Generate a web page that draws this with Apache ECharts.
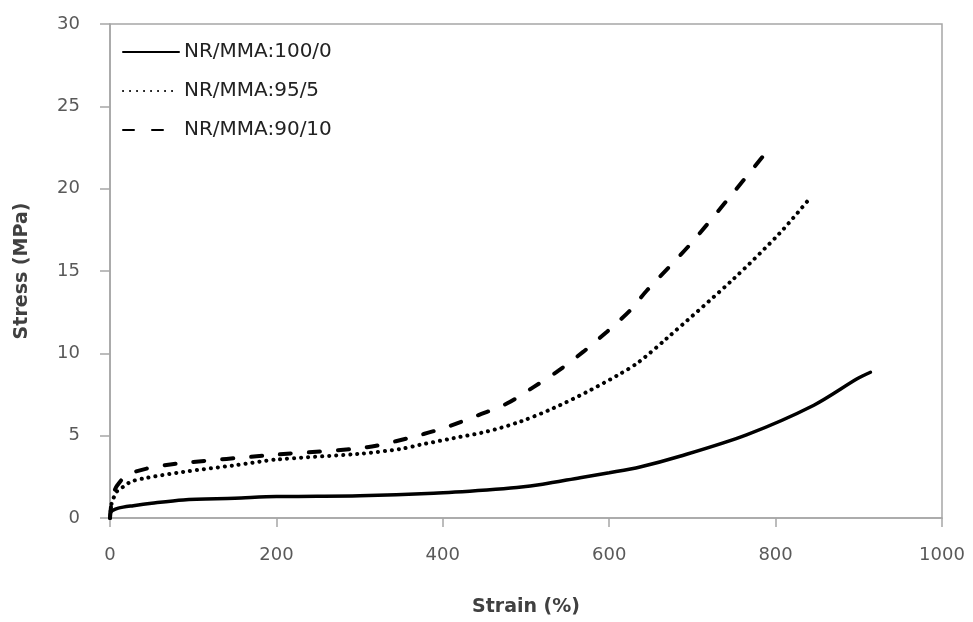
<!DOCTYPE html>
<html>
<head>
<meta charset="utf-8">
<script src="https://cdn.jsdelivr.net/npm/echarts@6/dist/echarts.min.js"></script>
<style>html,body{margin:0;padding:0;background:#fff}#c{width:973px;height:622px}</style>
</head>
<body>
<div id="c"></div>
<script>
const seriesNames = ['NR/MMA:100/0', 'NR/MMA:95/5', 'NR/MMA:90/10'];
const xTicks = [0, 200, 400, 600, 800, 1000];
const yTicks = [0, 5, 10, 15, 20, 25, 30];

const nr100 = [[0,0],[0.5,0.3],[3,0.45],[10,0.6],[28,0.75],[50,0.9],[88,1.1],[150,1.2],[200,1.3],[300,1.35],[389,1.5],[453,1.7],[489,1.85],[520,2.05],[565,2.45],[600,2.75],[637,3.1],[685,3.75],[765,5.05],[846,6.85],[898,8.45],[914,8.85]];
const nr95 = [[0,0],[2,0.9],[5,1.3],[8,1.6],[16,1.9],[25,2.2],[40,2.4],[88,2.8],[150,3.2],[200,3.55],[300,3.9],[350,4.2],[373,4.45],[413,4.85],[453,5.25],[493,5.85],[532,6.65],[573,7.65],[613,8.75],[635,9.45],[669,10.9],[749,14.5],[805,17.3],[840,19.35]];
const nr90 = [[0,0],[2,1.0],[5,1.6],[9,2.0],[20,2.6],[44,3.0],[80,3.3],[200,3.85],[309,4.3],[377,5.1],[409,5.6],[443,6.25],[477,6.95],[509,7.95],[539,8.95],[569,10.1],[597,11.3],[625,12.6],[645,13.8],[697,16.6],[745,19.5],[787,22.1]];

const chart = echarts.init(document.getElementById('c'), null, {renderer: 'canvas'});
const axisGrey = '#a6a6a6';
chart.setOption({
  backgroundColor: '#fff',
  animation: false,
  grid: {left: 110, right: 31, top: 24, bottom: 102, show: true, borderColor: axisGrey, borderWidth: 1.5, backgroundColor: 'transparent'},
  legend: {
    orient: 'vertical', align: 'left', left: 117, top: 37, itemWidth: 56, itemHeight: 20, itemGap: 19,
    itemStyle: {color: 'rgba(0,0,0,0)', borderColor: 'rgba(0,0,0,0)', borderWidth: 0, opacity: 0},
    textStyle: {fontFamily: 'DejaVu Sans', fontSize: 20, color: '#222'},
    data: seriesNames
  },
  xAxis: {
    type: 'value', min: 0, max: 1000, interval: 200,
    name: 'Strain (%)', nameLocation: 'middle', nameGap: 80,
    nameTextStyle: {fontFamily: 'DejaVu Sans', fontWeight: 'bold', fontSize: 19, color: '#404040'},
    axisLine: {show: true, lineStyle: {color: axisGrey, width: 1.5}},
    axisTick: {show: true, inside: false, length: 9, lineStyle: {color: axisGrey, width: 1.5}},
    axisLabel: {margin: 28, fontFamily: 'DejaVu Sans', fontSize: 18, color: '#595959',
      formatter: function (v) { return String(v); }},
    splitLine: {show: false}
  },
  yAxis: {
    type: 'value', min: 0, max: 30, interval: 5,
    name: 'Stress (MPa)', nameLocation: 'middle', nameGap: 78,
    nameTextStyle: {fontFamily: 'DejaVu Sans', fontWeight: 'bold', fontSize: 19, color: '#404040'},
    axisLine: {show: true, lineStyle: {color: axisGrey, width: 1.5}},
    axisTick: {show: true, inside: false, length: 10, lineStyle: {color: axisGrey, width: 1.5}},
    axisLabel: {margin: 30, fontFamily: 'DejaVu Sans', fontSize: 18, color: '#595959',
      formatter: function (v) { return String(v); }},
    splitLine: {show: false}
  },
  series: [
    {name: seriesNames[0], type: 'line', data: nr100, showSymbol: false, symbol: 'none', smooth: 0.3,
      lineStyle: {color: '#000', width: 3.5, type: 'solid', cap: 'round'}, itemStyle: {color: '#000'}},
    {name: seriesNames[1], type: 'line', data: nr95, showSymbol: false, symbol: 'none', smooth: 0.3,
      lineStyle: {color: '#000', width: 4, type: [0.1, 6.9], cap: 'round'}, itemStyle: {color: '#000'}},
    {name: seriesNames[2], type: 'line', data: nr90, showSymbol: false, symbol: 'none', smooth: 0.3,
      lineStyle: {color: '#000', width: 4, type: [11, 18], cap: 'round'}, itemStyle: {color: '#000'}}
  ]
});
</script>
</body>
</html>
